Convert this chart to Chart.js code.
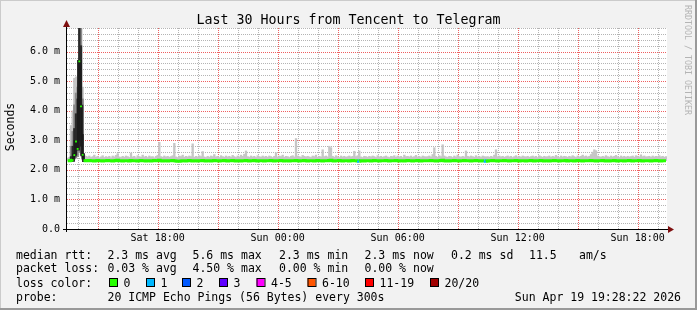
<!DOCTYPE html>
<html><head><meta charset="utf-8">
<script src="https://cdn.jsdelivr.net/npm/chart.js@4.4.1/dist/chart.umd.min.js"></script>
<style>html,body{margin:0;padding:0;background:#f2f2f2}</style>
</head><body>
<canvas id="c" width="697" height="310"></canvas>
<script>
// time axis in minutes since Sat 00:00
const startMin = 808, endMin = 2608;   // Sat 13:28 .. Sun 19:28
const firstStep = 810, stepMin = 5;    // 300s steps

// median rtt (ms), one row per hour, 12 steps each
const medianRtt = [
 2.31,2.31,2.32,2.33,2.50,2.96,2.71,5.67,4.15,2.51,2.32,2.31,
 2.31,2.32,2.31,2.31,2.30,2.31,2.32,2.31,2.31,2.30,2.31,2.31,
 2.32,2.31,2.31,2.30,2.31,2.32,2.33,2.31,2.31,2.30,2.31,2.31,
 2.31,2.30,2.32,2.31,2.31,2.31,2.30,2.31,2.32,2.31,2.31,2.30,
 2.31,2.31,2.30,2.31,2.32,2.31,2.31,2.33,2.31,2.30,2.31,2.31,
 2.30,2.31,2.31,2.32,2.31,2.30,2.29,2.29,2.30,2.31,2.31,2.30,
 2.31,2.32,2.31,2.30,2.31,2.31,2.30,2.31,2.31,2.32,2.31,2.30,
 2.31,2.31,2.30,2.31,2.32,2.31,2.31,2.30,2.31,2.31,2.32,2.31,
 2.30,2.31,2.31,2.32,2.31,2.30,2.31,2.31,2.30,2.31,2.31,2.32,
 2.31,2.30,2.31,2.31,2.32,2.31,2.30,2.31,2.31,2.31,2.30,2.31,
 2.31,2.31,2.32,2.31,2.30,2.31,2.31,2.31,2.32,2.31,2.30,2.31,
 2.31,2.30,2.31,2.31,2.31,2.32,2.31,2.30,2.31,2.31,2.32,2.31,
 2.30,2.31,2.31,2.31,2.30,2.31,2.32,2.31,2.31,2.30,2.31,2.31,
 2.31,2.32,2.33,2.31,2.30,2.31,2.31,2.32,2.31,2.30,2.31,2.31,
 2.31,2.30,2.31,2.32,2.31,2.31,2.30,2.29,2.31,2.31,2.30,2.31,
 2.31,2.31,2.30,2.31,2.32,2.31,2.31,2.30,2.31,2.31,2.31,2.32,
 2.31,2.30,2.31,2.31,2.31,2.32,2.31,2.30,2.31,2.31,2.30,2.31,
 2.32,2.31,2.31,2.30,2.31,2.31,2.32,2.31,2.30,2.31,2.31,2.31,
 2.31,2.31,2.32,2.31,2.31,2.30,2.31,2.31,2.32,2.33,2.31,2.30,
 2.31,2.30,2.31,2.31,2.32,2.31,2.31,2.30,2.31,2.31,2.32,2.31,
 2.31,2.31,2.30,2.31,2.31,2.32,2.31,2.31,2.30,2.31,2.31,2.29,
 2.30,2.31,2.31,2.32,2.31,2.31,2.30,2.31,2.31,2.31,2.32,2.31,
 2.31,2.30,2.31,2.31,2.31,2.32,2.31,2.30,2.31,2.31,2.31,2.30,
 2.31,2.31,2.32,2.31,2.30,2.31,2.31,2.31,2.32,2.31,2.30,2.31,
 2.31,2.30,2.31,2.31,2.32,2.31,2.31,2.30,2.31,2.31,2.31,2.32,
 2.30,2.31,2.31,2.31,2.30,2.31,2.32,2.31,2.31,2.30,2.31,2.31,
 2.31,2.31,2.32,2.31,2.31,2.30,2.31,2.31,2.31,2.32,2.31,2.30,
 2.31,2.30,2.31,2.31,2.32,2.31,2.30,2.31,2.31,2.31,2.30,2.31,
 2.31,2.32,2.31,2.30,2.31,2.31,2.31,2.32,2.31,2.30,2.31,2.31,
 2.31,2.31,2.30,2.31,2.31,2.32,2.31,2.31,2.30,2.31,2.31,2.31
];

// smoke upper edge (slowest ping, ms)
const smokeMax = [
 2.40,2.42,3.50,4.00,5.10,5.15,5.00,6.90,6.90,4.80,2.50,2.46,
 2.44,2.47,2.42,2.45,2.50,2.43,2.46,2.41,2.44,2.48,2.42,2.45,
 2.43,2.46,2.41,2.47,2.44,2.49,2.55,2.44,2.42,2.46,2.43,2.47,
 2.45,2.42,2.57,2.44,2.46,2.41,2.48,2.45,2.43,2.50,2.44,2.46,
 2.42,2.47,2.44,2.45,2.41,2.46,2.49,2.93,2.45,2.43,2.47,2.44,
 2.46,2.43,2.45,2.48,2.90,2.44,2.42,2.47,2.45,2.50,2.43,2.46,
 2.44,2.47,2.45,2.88,2.43,2.46,2.44,2.48,2.45,2.62,2.44,2.42,
 2.46,2.43,2.47,2.45,2.52,2.44,2.46,2.42,2.48,2.45,2.43,2.47,
 2.44,2.46,2.43,2.49,2.45,2.42,2.47,2.44,2.50,2.46,2.53,2.64,
 2.45,2.43,2.47,2.44,2.46,2.42,2.48,2.45,2.43,2.47,2.44,2.46,
 2.43,2.47,2.45,2.42,2.46,2.58,2.44,2.47,2.45,2.50,2.43,2.46,
 2.45,2.42,2.46,2.48,2.44,3.06,2.47,2.45,2.43,2.49,2.46,2.44,
 2.46,2.44,2.42,2.47,2.45,2.50,2.43,2.46,2.44,2.68,2.45,2.47,
 2.44,2.80,2.75,2.46,2.43,2.48,2.45,2.42,2.47,2.44,2.46,2.43,
 2.45,2.47,2.44,2.46,2.63,2.45,2.48,2.64,2.44,2.42,2.46,2.45,
 2.43,2.46,2.44,2.47,2.45,2.42,2.48,2.44,2.46,2.43,2.45,2.47,
 2.44,2.42,2.46,2.45,2.48,2.43,2.47,2.44,2.46,2.42,2.50,2.45,
 2.46,2.44,2.47,2.43,2.45,2.49,2.44,2.46,2.42,2.47,2.45,2.44,
 2.45,2.47,2.44,2.52,2.75,2.46,2.43,2.48,2.45,2.85,2.47,2.44,
 2.43,2.46,2.45,2.42,2.47,2.44,2.50,2.45,2.43,2.46,2.44,2.64,
 2.46,2.44,2.47,2.45,2.43,2.48,2.44,2.46,2.42,2.47,2.45,2.44,
 2.45,2.43,2.46,2.44,2.50,2.68,2.45,2.47,2.44,2.46,2.43,2.45,
 2.47,2.44,2.46,2.42,2.45,2.48,2.44,2.46,2.43,2.47,2.45,2.44,
 2.46,2.43,2.45,2.47,2.44,2.46,2.42,2.48,2.45,2.43,2.46,2.44,
 2.45,2.47,2.43,2.46,2.44,2.49,2.45,2.42,2.47,2.44,2.46,2.45,
 2.43,2.46,2.44,2.48,2.45,2.42,2.47,2.44,2.46,2.50,2.45,2.47,
 2.44,2.46,2.52,2.60,2.68,2.65,2.47,2.45,2.43,2.46,2.44,2.48,
 2.45,2.43,2.47,2.44,2.46,2.49,2.45,2.42,2.47,2.44,2.46,2.43,
 2.46,2.44,2.45,2.47,2.43,2.48,2.46,2.44,2.51,2.45,2.47,2.44,
 2.45,2.46,2.43,2.47,2.44,2.46,2.45,2.48,2.44,2.46,2.43,2.45
];

// denser smoke inside the spike at the start (steps 2..9)
const spikeStart = 2;
const spikeMidLo  = [2.30,2.32,2.36,2.40,2.45,2.60,2.50,2.34];
const spikeMidHi  = [2.80,3.30,4.20,4.60,4.80,6.90,6.90,4.40];
const spikeDarkLo = [2.31,2.34,2.40,2.50,2.70,3.00,2.80,2.40];
const spikeDarkHi = [2.45,2.80,3.40,3.90,4.40,6.90,6.20,3.20];

// steps with lost pings
const lossSteps  = [175, 251];
const lossCounts = [1, 1];

// grid: minor every hour / 0.2 m, major (red) every 3 h / 1.0 m
const xMinorMinutes = [];
for (let m = 840; m < endMin; m += 60) xMinorMinutes.push(m);
const xMajorMinutes = xMinorMinutes.filter(m => m % 180 === 0);
const yMinorValues = [];
for (let k = 1; k <= 34; k++) if (k % 5) yMinorValues.push(k / 5);
const yMajorValues = [1, 2, 3, 4, 5, 6];

const xTickMinutes = [1080, 1440, 1800, 2160, 2520];
const xTickLabels  = ['Sat 18:00','Sun 00:00','Sun 06:00','Sun 12:00','Sun 18:00'];
const yTickLabels  = ['0.0','1.0 m','2.0 m','3.0 m','4.0 m','5.0 m','6.0 m'];

const lossLabels = ['0','1','2','3','4-5','6-10','11-19','20/20'];
const lossColors = ['#26ff00','#00b8ff','#0059ff','#5e00ff','#ff00ff','#ff5500','#ff0000','#a10000'];
const lossUpper  = [0,1,2,3,5,10,19,20];

const rttStats  = ['2.3 ms avg','5.6 ms max','2.3 ms min','2.3 ms now','0.2 ms sd','11.5','am/s'];
const lossStats = ['0.03 % avg','4.50 % max','0.00 % min','0.00 % now'];

const stepTime = i => firstStep + i * stepMin;
function lossColorAt(i){
 const k = lossSteps.indexOf(i);
 const n = k < 0 ? 0 : lossCounts[k];
 for (let c = 0; c < lossUpper.length; c++) if (n <= lossUpper[c]) return lossColors[c];
 return lossColors[lossColors.length-1];
}
const bigJump = i => (i > 0 && Math.abs(medianRtt[i]-medianRtt[i-1]) > 0.15) ||
                     (i < medianRtt.length-1 && Math.abs(medianRtt[i+1]-medianRtt[i]) > 0.15);

const FONT = 'DejaVu Sans Mono';
Chart.defaults.font.family = FONT;
Chart.defaults.color = '#000';

const GRID = '#b4b4b4';
const MGRID = '#ee6060';

// dotted rrdtool grid, placed through the chart's own scales
function vLines(c, a, xs, color){
 c.strokeStyle = color; c.lineWidth = 1; c.setLineDash([1, 1]);
 xs.forEach(px => {
  const x = Math.round(px) + 0.5;
  c.beginPath(); c.moveTo(x, a.top); c.lineTo(x, a.bottom); c.stroke();
 });
}
function hLines(c, a, ys, color){
 c.strokeStyle = color; c.lineWidth = 1; c.setLineDash([1, 1]);
 ys.forEach(py => {
  const y = Math.round(py) + 0.5;
  c.beginPath(); c.moveTo(a.left, y); c.lineTo(a.right, y); c.stroke();
 });
}

const rrdLook = {
 id: 'rrdLook',
 beforeDraw(chart){
  const c = chart.ctx, a = chart.chartArea;
  c.save();
  c.fillStyle = '#f2f2f2';
  c.fillRect(0, 0, chart.width, chart.height);
  c.fillStyle = '#fff';
  c.fillRect(a.left, a.top, a.right - a.left, a.bottom - a.top);
  c.restore();
 },
 beforeDatasetsDraw(chart){
  const c = chart.ctx, a = chart.chartArea;
  const sx = chart.scales.x, sy = chart.scales.y;
  c.save();
  vLines(c, a, xMinorMinutes.filter(m => m % 180 !== 0).map(m => sx.getPixelForValue(m)), GRID);
  hLines(c, a, yMinorValues.map(v => sy.getPixelForValue(v)), GRID);
  vLines(c, a, xMajorMinutes.map(m => sx.getPixelForValue(m)), MGRID);
  hLines(c, a, yMajorValues.map(v => sy.getPixelForValue(v)), MGRID);
  c.restore();
 },
 afterDraw(chart){
  const c = chart.ctx, a = chart.chartArea;
  const W = chart.width, H = chart.height;
  c.save();
  // frame
  c.fillStyle = '#cbcbcb';
  c.fillRect(0, 0, W, 1); c.fillRect(0, 0, 1, H);
  c.fillStyle = '#999';
  c.fillRect(W-2, 0, 2, H); c.fillRect(0, H-2, W, 2);
  // axes
  c.strokeStyle = '#000'; c.lineWidth = 1;
  c.beginPath();
  c.moveTo(a.left - 4, a.bottom + 0.5); c.lineTo(a.right + 2, a.bottom + 0.5);
  c.moveTo(a.left - 0.5, a.bottom + 3); c.lineTo(a.left - 0.5, a.top - 2);
  c.stroke();
  c.fillStyle = '#7f1010';
  c.beginPath();
  c.moveTo(a.left - 0.5, a.top - 8); c.lineTo(a.left - 4, a.top - 1); c.lineTo(a.left + 3, a.top - 1); c.closePath(); c.fill();
  c.beginPath();
  c.moveTo(a.right + 7, a.bottom + 0.5); c.lineTo(a.right + 1, a.bottom - 3); c.lineTo(a.right + 1, a.bottom + 4); c.closePath(); c.fill();
  // title
  c.fillStyle = '#000';
  c.font = '13.3px "' + FONT + '"';
  c.textAlign = 'center'; c.textBaseline = 'alphabetic';
  c.fillText('Last 30 Hours from Tencent to Telegram', 348.5, 24);
  // y axis title
  c.save();
  c.translate(14, 127); c.rotate(-Math.PI/2);
  c.font = '11.5px "' + FONT + '"';
  c.fillText('Seconds', 0, 0);
  c.restore();
  // watermark
  c.save();
  c.translate(684.5, 60); c.rotate(Math.PI/2);
  c.font = '8.3px "' + FONT + '"';
  c.fillStyle = '#b4b4b4';
  c.fillText('RRDTOOL / TOBI OETIKER', 0, 0);
  c.restore();
  // legend block
  c.font = '11.5px "' + FONT + '"';
  c.textAlign = 'left'; c.textBaseline = 'alphabetic';
  const cols = [107.5, 192.5, 279, 364.5, 451, 529, 579];
  c.fillText('median rtt:', 16, 258.7);
  rttStats.forEach((t, k) => c.fillText(t, cols[k], 258.7));
  c.fillText('packet loss:', 16, 272.3);
  lossStats.forEach((t, k) => c.fillText(t, cols[k], 272.3));
  c.fillText('loss color:', 16, 286.5);
  const boxX = [109, 146, 182, 219, 256.5, 307.5, 365, 430];
  lossLabels.forEach((t, k) => {
   c.fillStyle = lossColors[k];
   c.fillRect(boxX[k], 278, 8, 8);
   c.strokeStyle = '#000';
   c.strokeRect(boxX[k] + 0.5, 278.5, 8, 8);
   c.fillStyle = '#000';
   c.fillText(t, boxX[k] + 14.5, 286.5);
  });
  c.fillText('probe:', 16, 300.5);
  c.fillText('20 ICMP Echo Pings (56 Bytes) every 300s', 107.5, 300.5);
  c.textAlign = 'right';
  c.fillText('Sun Apr 19 19:28:22 2026', 681, 300.5);
  c.restore();
 }
};

const barBase = {type: 'bar', grouped: false, barPercentage: 1, categoryPercentage: 1, borderWidth: 0};

new Chart(document.getElementById('c'), {
 type: 'bar',
 data: {
  datasets: [
   {
    type: 'line',
    data: medianRtt.map((v, i) => ({x: stepTime(i), y: v})),
    borderColor: '#26ff00', borderWidth: 3, stepped: 'middle',
    pointStyle: 'rect',
    pointRadius: ctx => bigJump(ctx.dataIndex) ? 1.3 : 0,
    pointBackgroundColor: ctx => lossColorAt(ctx.dataIndex),
    pointBorderWidth: 0,
    segment: {
     borderColor: ctx => Math.abs(ctx.p1.parsed.y - ctx.p0.parsed.y) > 0.15 ? 'rgba(25,25,25,0.9)' : lossColorAt(ctx.p1DataIndex)
    }
   },
   Object.assign({}, barBase, {
    data: spikeDarkLo.map((lo, k) => ({x: stepTime(spikeStart + k), y: [lo, spikeDarkHi[k]]})),
    backgroundColor: '#2a2a2a'
   }),
   Object.assign({}, barBase, {
    data: spikeMidLo.map((lo, k) => ({x: stepTime(spikeStart + k), y: [lo, spikeMidHi[k]]})),
    backgroundColor: '#8c8c8c'
   }),
   Object.assign({}, barBase, {
    data: smokeMax.map((hi, i) => ({x: stepTime(i), y: [medianRtt[i], hi]})),
    backgroundColor: '#c6c6c6'
   })
  ]
 },
 options: {
  responsive: false, animation: false, devicePixelRatio: 1,
  layout: {padding: {left: 0, right: 30, top: 28, bottom: 61}},
  plugins: {legend: {display: false}, tooltip: {enabled: false}, title: {display: false}},
  scales: {
   x: {
    type: 'linear', min: startMin, max: endMin, offset: false,
    afterFit: s => { s.height = 20; },
    afterBuildTicks: s => { s.ticks = xTickMinutes.map(m => ({value: m})); },
    ticks: {
     autoSkip: false, maxRotation: 0, padding: 3, font: {size: 10},
     callback: v => { const k = xTickMinutes.indexOf(v); return k < 0 ? '' : xTickLabels[k]; }
    },
    grid: {display: false, drawTicks: false},
    border: {display: false}
   },
   y: {
    type: 'linear', min: 0, max: 6.8,
    afterFit: s => { s.width = 67; },
    afterBuildTicks: s => { s.ticks = yTickLabels.map((t, k) => ({value: k})); },
    ticks: {
     autoSkip: false, padding: 7, font: {size: 10},
     callback: v => yTickLabels[Math.round(v)]
    },
    grid: {display: false, drawTicks: false},
    border: {display: false}
   }
  }
 },
 plugins: [rrdLook]
});
</script>
</body></html>
